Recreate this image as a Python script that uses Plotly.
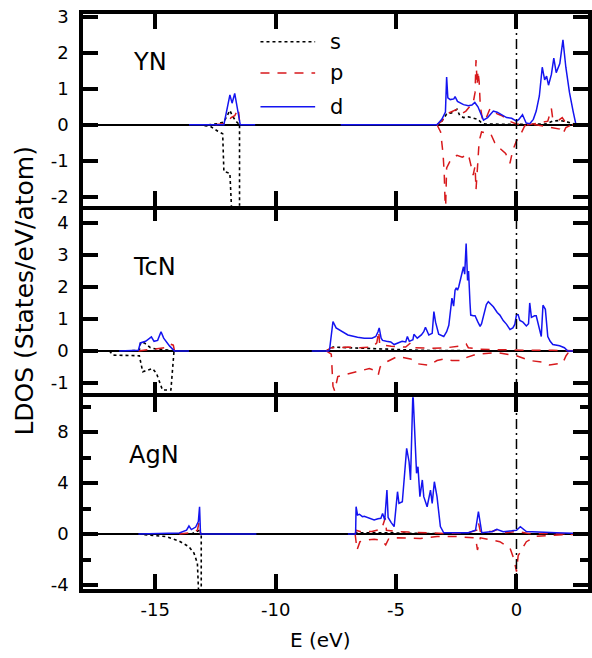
import plotly.graph_objects as go
from plotly.subplots import make_subplots

# ---- data (E in eV, LDOS in states/eV/atom) ----
# positive = spin up, negative = spin down; None breaks a line

# YN
YN_S_UP_E = [-12.8, -12.4, -12.15, -11.95, -11.9, -11.8, -11.65, -11.5, -10.85, None,
             -7.3, -3.3, -3.1, -2.9, -2.7, -2.47, -2.35, -2.2, -2.0, -1.8,
             -1.6, -1.45, -1.3, 0.0, 1.2, 1.5, 1.8, 2.1, 2.4, 2.5, 3.0]
YN_S_UP = [0, 0.03, 0.08, 0.35, 0.4, 0.25, 0.1, 0, 0, None,
           0, 0, 0.1, 0.3, 0.33, 0.43, 0.25, 0.2, 0.22, 0.18,
           0.15, 0.05, 0.02, 0.01, 0.02, 0.1, 0.12, 0.08, 0.02, 0, 0]
YN_S_DN_E = [-13.2, -12.7, -12.4, -12.2, -12.15, -11.9, -11.75, -11.5, -11.5, -10.85]
YN_S_DN = [0, -0.05, -0.18, -0.25, -1.3, -1.35, -3.5, -3.5, 0, 0]

YN_P_UP_E = [-12.5, -12.0, -11.85, -11.7, -11.55, -11.5, -11.45, None, -3.3, -3.1,
             -2.9, -2.7, -2.5, -2.3, -2.1, -1.95, -1.8, -1.72, -1.68, -1.63,
             -1.6, -1.55, -1.5, -1.4, -1.25, -1.1, -0.95, -0.8, -0.6, -0.3,
             0.0, 0.5, 1.0, 1.3, 1.45, 1.5, 1.7, 1.9, 2.0, 2.3, 3.0]
YN_P_UP = [0, 0.05, 0.2, 0.25, 0.45, 0.1, 0, None, 0, 0.1,
           0.3, 0.35, 0.42, 0.3, 0.38, 0.5, 0.6, 0.9, 1.8, 1.1,
           1.5, 1.2, 0.5, 0.1, 0.2, 0.45, 0.4, 0.3, 0.25, 0.1,
           0.02, 0, 0.05, 0.1, 0.45, 0.2, 0.1, 0.2, 0.1, 0, 0]
YN_P_DN_E = [-3.3, -3.15, -3.05, -3.0, -2.95, -2.9, -2.75, -2.47, -2.25, -2.0,
             -1.9, -1.8, -1.72, -1.68, -1.62, -1.55, -1.45, -1.2, -1.07, -0.9,
             -0.7, -0.45, -0.27, -0.15, 0.0, 0.2, 0.35, 0.8, 1.2, 1.5,
             1.8, 1.93, 2.05, 2.3]
YN_P_DN = [0, -0.2, -0.8, -1.35, -2.5, -1.2, -1.0, -0.85, -0.9, -0.82,
           -1.1, -1.4, -1.15, -1.8, -1.2, -0.45, -0.2, -0.22, -0.25, -0.5,
           -0.65, -0.8, -1.07, -0.7, -0.45, -0.23, -0.02, 0, -0.05, -0.1,
           -0.12, -0.25, -0.08, 0]

YN_D_E = [-13.6, -12.15, -11.9, -11.81, -11.7, -11.47, -10.85, None, -7.3, -3.3,
          -3.1, -2.95, -2.9, -2.85, -2.75, -2.6, -2.55, -2.45, -2.2, -2.0,
          -1.85, -1.73, -1.6, -1.45, -1.37, -1.2, -0.96, -0.8, -0.6, -0.41,
          -0.2, 0.0, 0.1, 0.25, 0.4, 0.55, 0.7, 0.82, 0.95, 1.07,
          1.17, 1.25, 1.33, 1.45, 1.55, 1.65, 1.8, 1.93, 2.05, 2.2,
          2.35, 2.47, 3.0]
YN_D = [0, 0, 0.83, 0.6, 0.87, 0, 0, None, 0, 0,
        0.15, 0.35, 1.33, 0.75, 0.7, 0.72, 0.78, 0.65, 0.56, 0.53,
        0.55, 0.62, 0.5, 0.25, 0.13, 0.2, 0.38, 0.35, 0.27, 0.2,
        0.18, 0.1, 0.15, 0.28, 0.05, 0.03, 0.15, 0.38, 0.8, 1.6,
        1.25, 1.35, 1.1, 1.4, 1.85, 1.45, 1.7, 2.36, 1.6, 0.9,
        0.38, 0, 0]

# TcN
TCN_S_UP_E = [-16.2, -15.66, -15.6, -15.45, -15.2, -14.9, -14.5, -14.22, None, -7.9,
              -7.76, -7.62, -7.0, -6.0, -5.0, -4.0, -3.0, 2.2]
TCN_S_UP = [0, 0.02, 0.28, 0.25, 0.1, 0.05, 0.03, 0, None, 0,
            0.05, 0.12, 0.1, 0.07, 0.04, 0.02, 0.01, 0]
TCN_S_DN_E = [-16.9, -16.76, -15.66, -15.52, -15.11, -14.95, -14.70, -14.35, -14.22, -13.6]
TCN_S_DN = [0, -0.13, -0.15, -0.65, -0.55, -0.7, -1.22, -1.22, 0, 0]

TCN_P_UP_E = [-15.7, -15.2, -14.9, -14.6, -14.4, -14.25, -14.2, None, -7.9, -7.7,
              -7.4, -7.0, -6.5, -6.0, -5.8, -5.72, -5.68, -5.2, -4.6, -4.4,
              -4.3, -3.5, -2.9, -2.4, -2.09, -2.0, -1.5, -0.5, 0.5, 1.5,
              2.2, 3.0]
TCN_P_UP = [0, 0.05, 0.06, 0.1, 0.22, 0.18, 0, None, 0, 0.1,
            0.1, 0.12, 0.1, 0.12, 0.25, 0.62, 0.2, 0.15, 0.12, 0.25,
            0.1, 0.08, 0.1, 0.15, 0.22, 0.1, 0.05, 0.03, 0.02, 0.02,
            0, 0]
TCN_P_DN_E = [-7.9, -7.69, -7.62, -7.55, -7.42, -7.14, -6.59, -6.11, -5.91, -5.74,
              -5.66, -5.36, -4.94, -4.4, -4.26, -4.12, -3.64, -3.3, -3.02, -2.68,
              -2.2, -2.06, -1.65, -0.82, 0.0, 0.55, 1.10, 1.37, 1.92, 2.06,
              2.2]
TCN_P_DN = [0, -0.1, -1.1, -1.25, -0.8, -0.75, -0.65, -0.55, -0.6, -0.75,
            -0.5, -0.33, -0.17, -0.25, -0.3, -0.4, -0.45, -0.3, -0.25, -0.3,
            -0.3, -0.2, -0.1, -0.05, -0.15, -0.3, -0.35, -0.44, -0.38, -0.15,
            0]

TCN_D_E = [-16.5, -15.7, -15.62, -15.4, -15.16, -15.05, -14.9, -14.76, -14.65, -14.4,
           -14.2, -13.6, None, -8.5, -7.8, -7.76, -7.62, -7.49, -7.2, -7.0,
           -6.6, -6.32, -6.0, -5.84, -5.75, -5.70, -5.62, -5.56, -5.4, -5.22,
           -5.08, -4.94, -4.75, -4.6, -4.53, -4.45, -4.3, -4.26, -4.12, -3.95,
           -3.85, -3.78, -3.64, -3.5, -3.43, -3.36, -3.23, -3.02, -2.9, -2.81,
           -2.74, -2.68, -2.61, -2.55, -2.50, -2.45, -2.40, -2.33, -2.20, -2.15,
           -2.09, -2.03, -1.99, -1.93, -1.90, -1.8, -1.72, -1.6, -1.51, -1.45,
           -1.37, -1.25, -1.17, -1.05, -0.96, -0.8, -0.69, -0.55, -0.41, -0.27,
           -0.15, -0.07, 0.0, 0.07, 0.14, 0.27, 0.41, 0.5, 0.55, 0.62,
           0.75, 0.82, 0.9, 1.03, 1.10, 1.2, 1.30, 1.4, 1.51, 1.79,
           1.99, 2.13, 3.0]
TCN_D = [0, 0.02, 0.25, 0.3, 0.44, 0.3, 0.33, 0.6, 0.4, 0.15,
         0, 0, None, 0, 0, 0.05, 0.92, 0.72, 0.6, 0.5,
         0.43, 0.4, 0.4, 0.45, 0.6, 0.72, 0.4, 0.33, 0.3, 0.28,
         0.2, 0.25, 0.3, 0.28, 0.45, 0.3, 0.35, 0.52, 0.4, 0.5,
         0.6, 0.74, 0.5, 0.55, 1.23, 0.9, 0.52, 0.45, 0.6, 0.8,
         1.2, 1.65, 1.4, 1.9, 1.97, 1.9, 2.0, 2.22, 2.63, 2.4,
         3.36, 2.2, 2.5, 1.5, 1.12, 1.1, 1.1, 0.9, 0.77, 0.85,
         1.1, 1.45, 1.54, 1.45, 1.38, 1.2, 1.12, 0.95, 0.83, 0.67,
         0.72, 0.83, 1.13, 1.13, 0.95, 0.9, 0.78, 0.85, 1.5, 1.05,
         1.1, 1.1, 0.85, 0.45, 1.43, 1.3, 0.45, 0.3, 0.2, 0.16,
         0.1, 0, 0]

# AgN
AGN_S_UP_E = [-13.5, -13.25, -13.15, -13.1, None, -6.7, -6.66, -5.5, -4.0, -3.0, 3.0]
AGN_S_UP = [0, 0.2, 0.3, 0, None, 0, 0.1, 0.1, 0.05, 0.02, 0]
AGN_S_DN_E = [-15.7, -14.56, -14.01, -13.6, -13.39, -13.25, -13.19, -13.09, -13.09, -10.8]
AGN_S_DN = [0, -0.2, -0.55, -1.0, -1.5, -2.3, -5.0, -5.0, 0, 0]

AGN_P_UP_E = [-14.0, -13.5, -13.25, -13.18, -13.12, None, -6.7, -6.66, -6.5, -6.0,
              -5.6, -5.45, -5.4, -5.0, -4.5, -3.5, -3.0, -2.0, -1.65, -1.58,
              -1.5, -1.0, -0.8, -0.5, 0.0, 0.5, 1.5, 3.0]
AGN_P_UP = [0, 0.1, 0.3, 0.9, 0, None, 0, 0.3, 0.2, 0.2,
            0.4, 1.25, 0.3, 0.2, 0.15, 0.1, 0.05, 0.1, 0.3, 0.9,
            0.2, 0.2, 0.35, 0.1, 0.2, 0.05, 0.02, 0]
AGN_P_DN_E = [-6.7, -6.62, -6.5, -6.32, -5.91, -5.6, -5.43, -5.3, -4.94, -4.0,
              -3.3, -2.5, -1.7, -1.62, -1.5, -1.0, -0.69, -0.27, -0.1, 0.0,
              0.07, 0.41, 0.82, 1.92, 3.0]
AGN_P_DN = [0, -1.25, -0.6, -0.5, -0.4, -0.5, -0.85, -0.35, -0.3, -0.35,
            -0.2, -0.2, -0.3, -1.25, -0.3, -0.5, -0.6, -1.1, -2.0, -2.95,
            -1.7, -0.6, -0.18, -0.05, 0]

AGN_D_E = [-15.7, -14.5, -14.0, -13.7, -13.6, -13.5, -13.32, -13.21, -13.16, -13.12,
           -10.8, None, -7.0, -6.68, -6.66, -6.6, -6.52, -6.4, -6.32, -6.18,
           -6.0, -5.91, -5.75, -5.63, -5.56, -5.47, -5.38, -5.33, -5.2, -5.08,
           -4.94, -4.88, -4.74, -4.67, -4.56, -4.46, -4.40, -4.30, -4.23, -4.15,
           -4.09, -4.01, -3.91, -3.85, -3.71, -3.57, -3.50, -3.41, -3.30, -3.16,
           -3.02, -2.0, -1.7, -1.58, -1.44, -1.0, -0.82, -0.55, -0.2, 0.0,
           0.16, 0.41, 1.65, 2.5, 3.0]
AGN_D = [0, 0.02, 0.08, 0.3, 0.63, 0.35, 0.55, 0.97, 2.14, 0,
         0, None, 0, 0, 2.14, 1.5, 1.55, 1.36, 1.4, 1.3,
         1.2, 1.1, 1.2, 1.23, 1.62, 1.1, 3.45, 1.3, 0.9, 0.58,
         3.32, 2.4, 2.53, 3.97, 6.72, 5.67, 4.24, 11.2, 8.16, 4.76,
         5.28, 2.93, 4.24, 2.93, 2.14, 3.45, 2.4, 4.1, 2.93, 0.58,
         0.1, 0.1, 0.31, 1.75, 0.1, 0.2, 0.37, 0.18, 0.25, 0.3,
         0.58, 0.2, 0.1, 0.04, 0.03]

COMPOUNDS = ["YN", "TcN", "AgN"]
ORBITALS = ["s", "p", "d"]

X_TICKS = [-15, -10, -5, 0]
Y_RANGES = [[-2.25, 3.08], [-1.45, 4.54], [-4.31, 10.72]]
Y_TICKS = [[-2, -1, 0, 1, 2, 3], [-1, 0, 1, 2, 3, 4], [-4, 0, 4, 8]]

FONT = "DejaVu Sans"
STYLES = {
    "s": dict(color="black", width=1.6, dash="3px,3px"),
    "p": dict(color="#d7191c", width=1.5, dash="9px,8px"),
    "d": dict(color="#1414f0", width=1.5),
}

curves = [
    [("s", YN_S_UP_E, YN_S_UP), ("s", YN_S_DN_E, YN_S_DN),
     ("p", YN_P_UP_E, YN_P_UP), ("p", YN_P_DN_E, YN_P_DN),
     ("d", YN_D_E, YN_D)],
    [("s", TCN_S_UP_E, TCN_S_UP), ("s", TCN_S_DN_E, TCN_S_DN),
     ("p", TCN_P_UP_E, TCN_P_UP), ("p", TCN_P_DN_E, TCN_P_DN),
     ("d", TCN_D_E, TCN_D)],
    [("s", AGN_S_UP_E, AGN_S_UP), ("s", AGN_S_DN_E, AGN_S_DN),
     ("p", AGN_P_UP_E, AGN_P_UP), ("p", AGN_P_DN_E, AGN_P_DN),
     ("d", AGN_D_E, AGN_D)],
]

fig = make_subplots(rows=3, cols=1, shared_xaxes=True, vertical_spacing=0)

for row, panel in enumerate(curves, start=1):
    for orb, e, v in panel:
        assert len(e) == len(v), (COMPOUNDS[row - 1], orb)
        fig.add_trace(go.Scatter(x=e, y=v, mode="lines", name=orb,
                                 line=STYLES[orb], showlegend=False,
                                 hoverinfo="skip"),
                      row=row, col=1)

# axes: thick frame, inside ticks on all four sides
fig.update_xaxes(range=[-18, 2.97], tickvals=X_TICKS,
                 ticktext=[str(t) for t in X_TICKS],
                 ticks="inside", ticklen=15, tickwidth=3.5, tickcolor="black",
                 showline=True, linewidth=3.5, linecolor="black", mirror="ticks",
                 showgrid=False, zeroline=False,
                 tickfont=dict(size=18, color="black"), ticklabelstandoff=2)
# middle panel shares its frame lines with its neighbours
fig.update_xaxes(showline=False, row=2, col=1)

for row in range(1, 4):
    fig.update_yaxes(range=Y_RANGES[row - 1], tickvals=Y_TICKS[row - 1],
                     ticktext=[str(t) for t in Y_TICKS[row - 1]],
                     ticks="inside", ticklen=15, tickwidth=3.5, tickcolor="black",
                     showline=True, linewidth=3.5, linecolor="black", mirror="ticks",
                     showgrid=False, zeroline=True, zerolinecolor="black",
                     zerolinewidth=1.5, tickfont=dict(size=18, color="black"),
                     ticklabelstandoff=7, row=row, col=1)

fig.update_yaxes(minor=dict(ticks="inside", ticklen=8, tickwidth=3.5,
                            tickcolor="black", dtick=2, tick0=0, showgrid=False),
                 row=3, col=1)

# Fermi level
fig.add_shape(type="line", xref="x", yref="paper", x0=0, x1=0, y0=0, y1=1,
              line=dict(color="black", width=1.5, dash="10px,4px,2px,4px"))

# compound labels
label_pos = [(-15.2, 1.75), (-15.05, 2.63), (-15.05, 6.2)]
for i, name in enumerate(COMPOUNDS):
    yref = "y" if i == 0 else f"y{i + 1}"
    fig.add_annotation(text=name, x=label_pos[i][0], y=label_pos[i][1],
                       xref="x", yref=yref, showarrow=False,
                       font=dict(size=24, family=FONT, color="black"))

# legend drawn by hand inside the top panel
leg_y = [2.31, 1.44, 0.5]
for orb, ly in zip(ORBITALS, leg_y):
    fig.add_shape(type="line", xref="x", yref="y", x0=-10.63, x1=-8.36,
                  y0=ly, y1=ly, line=STYLES[orb])
    fig.add_annotation(text=orb, x=-7.83, y=ly, xref="x", yref="y",
                       xanchor="left", yanchor="middle", showarrow=False,
                       font=dict(size=21, family=FONT, color="black"))

# axis titles
fig.add_annotation(text="LDOS (States/eV/atom)", xref="paper", yref="paper",
                   x=-0.116, y=0.518, textangle=-90, showarrow=False,
                   xanchor="center", yanchor="middle",
                   font=dict(size=25, family=FONT, color="black"))
fig.add_annotation(text="E (eV)", xref="paper", yref="paper",
                   x=0.4705, y=-0.0887, showarrow=False,
                   xanchor="center", yanchor="middle",
                   font=dict(size=20, family=FONT, color="black"))

fig.update_layout(width=592, height=658,
                  margin=dict(l=83, r=0, t=14, b=69),
                  plot_bgcolor="white", paper_bgcolor="white",
                  showlegend=False,
                  font=dict(family=FONT, color="black"))

# drop the browser's default body margin so the figure sits at the page corner
fig.write_html("out.html", config={"displayModeBar": False},
               post_script="document.body.style.margin='0';")
